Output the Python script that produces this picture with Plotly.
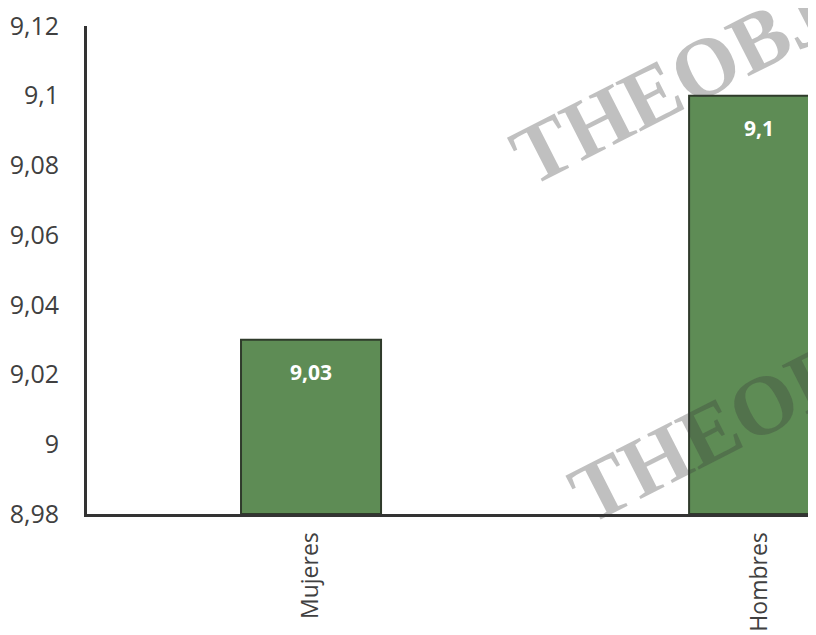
import plotly.graph_objects as go

categories = ["Mujeres", "Hombres"]
values = [9.03, 9.10]
value_labels = ["9,03", "9,1"]
y_ticks = [8.98, 9.00, 9.02, 9.04, 9.06, 9.08, 9.10, 9.12]
y_tick_labels = ["8,98", "9", "9,02", "9,04", "9,06", "9,08", "9,1", "9,12"]
y_min = 8.98
y_max = 9.12
watermark = "<b>THEOBJECTIVE</b>"

fig = go.Figure()
fig.add_trace(go.Bar(
    x=categories, y=[v - y_min for v in values], base=y_min,
    width=0.3125,
    marker=dict(color="#5e8c55", line=dict(color="#2f3b2b", width=2)),
    hoverinfo="skip",
))

for c, v, t in zip(categories, values, value_labels):
    fig.add_annotation(x=c, y=v, text="<b>%s</b>" % t, showarrow=False,
                       yshift=-32, font=dict(family="Open Sans", size=21, color="white"))

for px_, py_ in [(0.996, 1.029), (1.076, 0.338)]:
    fig.add_annotation(xref="paper", yref="paper", x=px_, y=py_, text=watermark,
                       showarrow=False, textangle=-27, xanchor="center", yanchor="middle",
                       font=dict(family="Liberation Serif", size=84, color="rgba(60,60,60,0.32)"))

fig.update_layout(
    width=808, height=627,
    margin=dict(l=79, r=0, t=14, b=121),
    paper_bgcolor="white", plot_bgcolor="white",
    showlegend=False,
    font=dict(family="Open Sans", color="#404040"),
)
fig.update_xaxes(
    range=[-0.5, 1.127],
    showline=True, linecolor="#333333", linewidth=3,
    showgrid=False, tickangle=-90,
    tickfont=dict(size=23, color="#404040"),
    ticks="outside", ticklen=6, tickcolor="rgba(0,0,0,0)",
    ticklabeloverflow="allow",
)
fig.update_yaxes(
    range=[y_min, y_max],
    tickvals=y_ticks, ticktext=y_tick_labels,
    showline=True, linecolor="#333333", linewidth=3,
    showgrid=False, zeroline=False,
    tickfont=dict(size=25, color="#404040"),
    ticks="outside", ticklen=20, tickcolor="rgba(0,0,0,0)",
    ticklabeloverflow="allow",
)
fig.write_html("out.html")
